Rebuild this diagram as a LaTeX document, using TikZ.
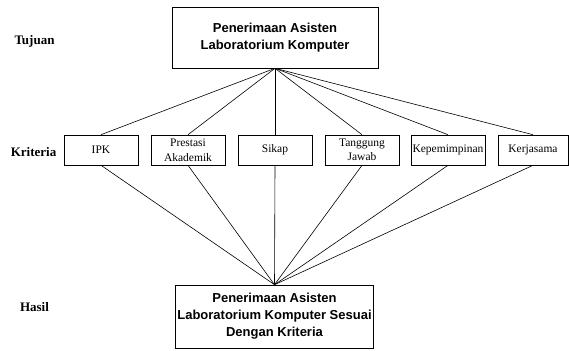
\documentclass[tikz,border=0pt]{standalone}
\usepackage{fontspec}
\setmainfont{Liberation Serif}
\newfontfamily\arialf{Liberation Sans}
\begin{document}
\begin{tikzpicture}[x=1pt,y=-1pt,
  line width=0.6pt,
  bigbox/.style={draw, rectangle, align=center, inner sep=0pt,
    font={\arialf\bfseries\fontsize{13}{17}\selectfont}},
  critbox/.style={draw, rectangle, align=center, inner sep=0pt,
    minimum width=74pt, minimum height=30pt,
    font={\fontsize{11.5}{14.5}\selectfont}},
  lvl/.style={font={\bfseries\fontsize{13}{15}\selectfont}, inner sep=0pt},
  conn/.style={line width=0.6pt}]
\useasboundingbox (0,0) rectangle (569,350);
\node[bigbox, minimum width=206pt, minimum height=61pt] (t) at (275,37.5)
  {Penerimaan Asisten\\Laboratorium Komputer};
\node[critbox] (c1) at (101,150) {IPK};
\node[critbox] (c2) at (188,150) {Prestasi\\Akademik};
\node[critbox] (c3) at (275,150) {Sikap};
\node[critbox] (c4) at (362,150) {Tanggung\\Jawab};
\node[critbox] (c5) at (448,150) {Kepemimpinan};
\node[critbox, minimum width=70pt] (c6) at (533,150) {Kerjasama};
\node[bigbox, minimum width=198pt, minimum height=63pt] (b) at (274.5,316.5)
  {Penerimaan Asisten\\Laboratorium Komputer Sesuai\\Dengan Kriteria};
\node[lvl] (l1) at (34.5,41) {Tujuan};
\node[lvl] (l2) at (33.5,152) {Kriteria};
\node[lvl] (l3) at (34.5,307) {Hasil};
\foreach \c in {c1,c2,c3,c4,c5,c6}{
  \draw[conn] (t.south) -- (\c.north);
  \draw[conn] (\c.south) -- (b.north);
}
\end{tikzpicture}
\end{document}
